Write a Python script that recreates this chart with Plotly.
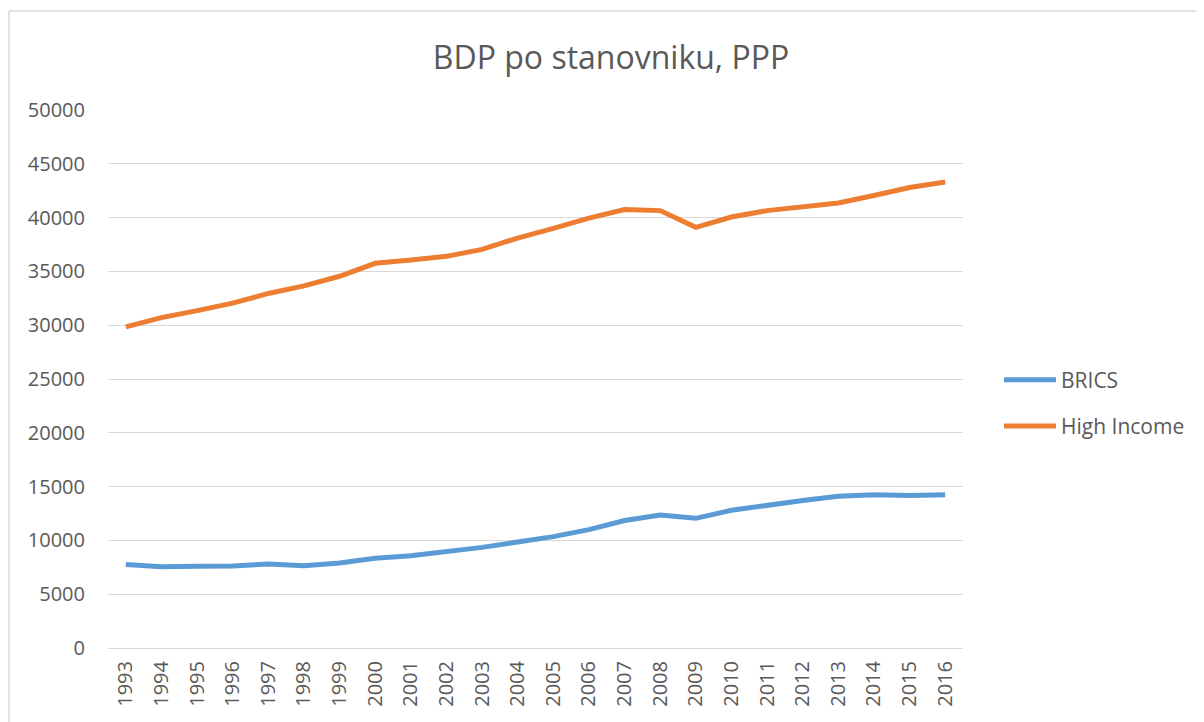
import plotly.graph_objects as go

years = list(range(1993, 2017))
brics = [7750, 7550, 7590, 7620, 7800, 7650, 7900, 8350, 8580, 8950, 9350, 9850,
         10350, 11000, 11850, 12350, 12050, 12800, 13300, 13700, 14100, 14250, 14180, 14250]
high_income = [29850, 30700, 31350, 32050, 32950, 33650, 34550, 35750, 36050, 36400, 37050, 38100,
               39000, 39950, 40750, 40650, 39100, 40050, 40650, 41000, 41350, 42050, 42800, 43300]

font_family = "Open Sans, Liberation Sans, sans-serif"
fig = go.Figure()
fig.add_trace(go.Scatter(x=years, y=brics, mode="lines", name="BRICS", legendgroup="a",
                         line=dict(color="#5B9BD5", width=5)))
fig.add_trace(go.Scatter(x=years, y=high_income, mode="lines", name="High Income", legendgroup="b",
                         line=dict(color="#ED7D31", width=5)))

# page body has an 8px margin, so figure coordinates = page coordinates - 8
W, H = 1196, 714
L, T = 100, 102
R = W - 955
B = H - 640
pw, ph = W - L - R, H - T - B

fig.update_layout(
    width=W, height=H,
    margin=dict(l=L, r=R, t=T, b=B),
    paper_bgcolor="white", plot_bgcolor="white",
    font=dict(family=font_family, color="#595959", size=20),
    title=dict(text="BDP po stanovniku, PPP", x=603 / W,
               xanchor="center", y=1 - 50 / H, yanchor="middle",
               font=dict(size=32, color="#595959")),
    xaxis=dict(range=[1992.5, 2016.5], tickmode="array", tickvals=years, ticktext=[str(y) for y in years],
               tickangle=-90, showgrid=False, zeroline=False, showline=False, ticks="",
               ticklabelstandoff=8, tickfont=dict(size=20)),
    yaxis=dict(range=[0, 50000], tickmode="linear", dtick=5000, tick0=0, showgrid=True, gridcolor="#d9d9d9",
               gridwidth=1.3, zeroline=True, zerolinecolor="#d9d9d9", zerolinewidth=1.3,
               showline=False, ticks="", tickformat="d", ticklabelstandoff=22, tickfont=dict(size=20)),
    legend=dict(x=(991 - L) / pw, y=(640 - 395) / ph, xanchor="left", yanchor="middle",
                font=dict(size=21, color="#595959"), tracegroupgap=16, itemwidth=52,
                bgcolor="rgba(0,0,0,0)"),
    showlegend=True,
    shapes=[
        dict(type="line", xref="paper", yref="paper", x0=(1 - L) / pw, x1=(1 - L) / pw,
             y0=(640 - 740) / ph, y1=(640 - 3) / ph, line=dict(color="#d9d9d9", width=1.5)),
        dict(type="line", xref="paper", yref="paper", x0=(1 - L) / pw, x1=(1220 - L) / pw,
             y0=(640 - 3) / ph, y1=(640 - 3) / ph, line=dict(color="#d9d9d9", width=1.5)),
    ],
)

fig.write_html("out.html")
